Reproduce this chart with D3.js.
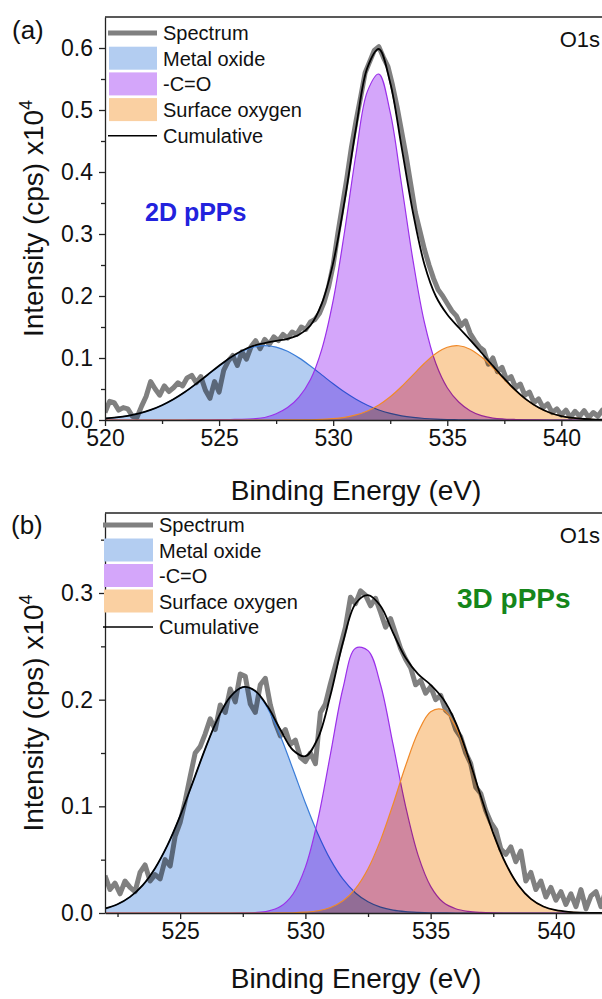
<!DOCTYPE html>
<html>
<head>
<meta charset="utf-8">
<script src="https://cdn.jsdelivr.net/npm/d3@7"></script>
<style>
body { margin: 0; background: #fff; }
svg { display: block; font-family: Arial, "Liberation Sans", sans-serif; }
</style>
</head>
<body>
<div id="chart"></div>
<script>
// ---- data ----
var legendLabels = ["Spectrum", "Metal oxide", "-C=O", "Surface oxygen", "Cumulative"];

// panel (a), fitted components every 0.5 eV from 520 eV
var fitStartA = 520;
var metalA = [0.0024, 0.0041, 0.0067, 0.0107, 0.0162, 0.0238, 0.0334, 0.0450, 0.0584, 0.0728,
              0.0871, 0.1002, 0.1108, 0.1176, 0.1200, 0.1176, 0.1108, 0.1002, 0.0871, 0.0728,
              0.0584, 0.0450, 0.0334, 0.0238, 0.0162, 0.0107, 0.0067, 0.0041, 0.0024, 0.0013,
              0.0007, 0.0004, 0.0002, 0, 0, 0, 0, 0, 0, 0, 0, 0, 0, 0, 0];
var carbonylA = [0, 0, 0, 0, 0, 0, 0, 0, 0.0002, 0.0003,
                 0.0005, 0.0008, 0.001, 0.002, 0.004, 0.010, 0.020, 0.037, 0.065, 0.114,
                 0.193, 0.304, 0.429, 0.530, 0.558, 0.496, 0.379, 0.257, 0.157, 0.091,
                 0.052, 0.029, 0.015, 0.007, 0.003, 0.0015, 0.0008, 0.0004, 0.0002, 0,
                 0, 0, 0, 0, 0];
var surfaceA = [0, 0, 0, 0, 0, 0, 0, 0, 0, 0,
                0, 0, 0, 0, 0, 0, 0.0001, 0.0002, 0.0004, 0.001,
                0.0021, 0.0043, 0.0082, 0.0146, 0.0242, 0.0374, 0.054, 0.0728, 0.0915, 0.1073,
                0.1174, 0.1198, 0.1142, 0.1015, 0.0842, 0.0651, 0.0471, 0.0317, 0.0199, 0.0117,
                0.0064, 0.0033, 0.0016, 0.0007, 0.0003];
// panel (a), measured spectrum every 0.2 eV from 520 eV
var specStartA = 520;
var spectrumA = [0.012, 0.030, 0.028, 0.016, 0.020, 0.018, 0.006, 0.004, 0.022, 0.038,
                 0.062, 0.050, 0.040, 0.055, 0.046, 0.052, 0.060, 0.055, 0.068, 0.072,
                 0.060, 0.070, 0.048, 0.035, 0.062, 0.045, 0.080, 0.095, 0.104, 0.088,
                 0.110, 0.098, 0.118, 0.128, 0.115, 0.130, 0.122, 0.134, 0.128, 0.138,
                 0.132, 0.142, 0.138, 0.150, 0.146, 0.158, 0.162, 0.172, 0.190, 0.215,
                 0.250, 0.300, 0.345, 0.390, 0.440, 0.482, 0.520, 0.560, 0.578, 0.596,
                 0.602, 0.585, 0.570, 0.540, 0.505, 0.465, 0.425, 0.380, 0.335, 0.305,
                 0.275, 0.250, 0.228, 0.210, 0.200, 0.188, 0.176, 0.168, 0.152, 0.160,
                 0.140, 0.128, 0.118, 0.112, 0.090, 0.100, 0.078, 0.085, 0.065, 0.070,
                 0.052, 0.058, 0.040, 0.045, 0.028, 0.034, 0.020, 0.026, 0.012, 0.018,
                 0.008, 0.016, 0.004, 0.014, 0.006, 0.015, 0.004, 0.012, 0.006, 0.016,
                 0.008];

// panel (b), fitted components every 0.5 eV from 522 eV
var fitStartB = 522;
var metalB = [0.0042, 0.0082, 0.0151, 0.0259, 0.0420, 0.0638, 0.0911, 0.1222, 0.1539, 0.1823,
              0.2027, 0.2117, 0.2078, 0.1916, 0.1659, 0.1350, 0.1032, 0.0741, 0.0500, 0.0317,
              0.0188, 0.0105, 0.0055, 0.0027, 0.0013, 0.0006, 0.0002, 0.0001, 0, 0,
              0, 0, 0, 0, 0, 0, 0, 0, 0, 0, 0];
var carbonylB = [0, 0, 0, 0, 0, 0, 0, 0, 0, 0,
                 0, 0.0001, 0.0004, 0.0017, 0.0060, 0.0176, 0.0430, 0.0877, 0.1489, 0.2107,
                 0.2483, 0.2460, 0.2140, 0.1580, 0.1000, 0.0540, 0.0250, 0.0100, 0.0040, 0.0015,
                 0.0005, 0.0001, 0, 0, 0, 0, 0, 0, 0, 0, 0];
var surfaceB = [0, 0, 0, 0, 0, 0, 0, 0, 0, 0,
                0, 0, 0, 0, 0.0001, 0.0002, 0.0008, 0.0021, 0.0052, 0.0114,
                0.0229, 0.0415, 0.0683, 0.1020, 0.1380, 0.1694, 0.1887, 0.1905, 0.1745, 0.1449,
                0.1092, 0.0746, 0.0462, 0.0260, 0.0132, 0.0061, 0.0026, 0.0010, 0.0003, 0.0001,
                0];
// panel (b), measured spectrum every 0.2 eV from 522 eV
var specStartB = 522;
var spectrumB = [0.035, 0.022, 0.028, 0.018, 0.030, 0.024, 0.020, 0.038, 0.045, 0.030,
                 0.036, 0.032, 0.050, 0.044, 0.072, 0.085, 0.105, 0.128, 0.150, 0.156,
                 0.168, 0.182, 0.172, 0.195, 0.188, 0.210, 0.198, 0.224, 0.222, 0.196,
                 0.188, 0.214, 0.220, 0.195, 0.178, 0.166, 0.172, 0.158, 0.162, 0.146,
                 0.142, 0.150, 0.140, 0.188, 0.196, 0.215, 0.232, 0.250, 0.268, 0.296,
                 0.290, 0.302, 0.298, 0.288, 0.295, 0.282, 0.268, 0.276, 0.262, 0.248,
                 0.238, 0.230, 0.214, 0.218, 0.206, 0.212, 0.200, 0.204, 0.190, 0.186,
                 0.172, 0.165, 0.150, 0.140, 0.118, 0.112, 0.096, 0.085, 0.078, 0.060,
                 0.055, 0.062, 0.048, 0.058, 0.030, 0.038, 0.022, 0.030, 0.015, 0.024,
                 0.012, 0.020, 0.008, 0.018, 0.006, 0.022, 0.004, 0.016, 0.020, 0.006,
                 0.022];

var xTicksA = [520, 525, 530, 535, 540];
var xMinorA = [522.5, 527.5, 532.5, 537.5];
var yTicksA = [0, 0.1, 0.2, 0.3, 0.4, 0.5, 0.6];
var yMinorA = [0.05, 0.15, 0.25, 0.35, 0.45, 0.55];
var xTicksB = [525, 530, 535, 540];
var xMinorB = [522.5, 527.5, 532.5, 537.5];
var yTicksB = [0, 0.1, 0.2, 0.3];
var yMinorB = [0.05, 0.15, 0.25, 0.35];

// ---- drawing ----
var width = 602;
var height = 999;
var compFill = ["#b3cdf1", "#d4a6fa", "#fad0a2"];
var compLine = ["#3b7dd8", "#9b30ea", "#f08a2a"];

var svg = d3.select("#chart")
            .append("svg")
            .attr("width", width)
            .attr("height", height);

svg.append("rect")
    .attr("width", width)
    .attr("height", height)
    .attr("fill", "white");

function toPoints(values, start, step) {
    return values.map((v, i) => ({x : start + i * step, y : v}));
}

function drawPanel(p) {
    var g = svg.append("g");
    var x = p.x, y = p.y;
    var left = x.range()[0], right = x.range()[1];
    var bottom = y.range()[0], top = y.range()[1];

    var clipId = "clip" + p.id;
    svg.append("clipPath").attr("id", clipId)
        .append("rect")
        .attr("x", left).attr("y", top)
        .attr("width", right - left).attr("height", bottom - top);

    var plot = g.append("g").attr("clip-path", "url(#" + clipId + ")");

    var curve = d3.curveCatmullRom.alpha(0.5);
    var line = d3.line().x(d => x(d.x)).y(d => y(d.y)).curve(curve);
    var area = d3.area().x(d => x(d.x)).y0(y(0)).y1(d => y(d.y)).curve(curve);

    // measured spectrum first, so the fits tint it
    plot.append("path")
        .attr("d", d3.line().x(d => x(d.x)).y(d => y(d.y))(toPoints(p.spectrum, p.specStart, 0.2)))
        .attr("fill", "none")
        .attr("stroke", "#808080")
        .attr("stroke-width", 5)
        .attr("stroke-linejoin", "round");

    var comps = [p.metal, p.carbonyl, p.surface];
    comps.forEach((c, i) => {
        var pts = toPoints(c, p.fitStart, 0.5);
        plot.append("path")
            .attr("d", area(pts))
            .attr("fill", compFill[i])
            .style("mix-blend-mode", "multiply");
        plot.append("path")
            .attr("d", line(pts))
            .attr("fill", "none")
            .attr("stroke", compLine[i])
            .attr("stroke-width", 1.2);
    });

    var cumulative = p.metal.map((v, i) => v + p.carbonyl[i] + p.surface[i]);
    plot.append("path")
        .attr("d", line(toPoints(cumulative, p.fitStart, 0.5)))
        .attr("fill", "none")
        .attr("stroke", "black")
        .attr("stroke-width", 1.8);

    // axes
    var fmt = d3.format(".1f");
    g.append("g").attr("transform", "translate(0," + bottom + ")")
        .call(d3.axisBottom(x).tickValues(p.xTicks).tickFormat(d3.format("d"))
              .tickSize(6).tickSizeOuter(0).tickPadding(4));
    g.append("g").attr("transform", "translate(0," + bottom + ")")
        .call(d3.axisBottom(x).tickValues(p.xMinor).tickFormat("").tickSize(4).tickSizeOuter(0))
        .select(".domain").remove();
    g.append("g").attr("transform", "translate(" + left + ",0)")
        .call(d3.axisLeft(y).tickValues(p.yTicks).tickFormat(fmt)
              .tickSize(6).tickSizeOuter(0).tickPadding(6));
    g.append("g").attr("transform", "translate(" + left + ",0)")
        .call(d3.axisLeft(y).tickValues(p.yMinor).tickFormat("").tickSize(4).tickSizeOuter(0))
        .select(".domain").remove();

    g.selectAll(".domain, .tick line").attr("stroke", "#222").attr("stroke-width", 1.3);
    g.selectAll(".tick text").attr("font-size", 23).attr("fill", "#111")
        .attr("font-family", "Arial, 'Liberation Sans', sans-serif");

    g.append("line")
        .attr("x1", left).attr("x2", right)
        .attr("y1", top).attr("y2", top)
        .attr("stroke", "#222").attr("stroke-width", 1.3);

    // titles
    g.append("text")
        .attr("x", 356).attr("y", p.xTitleY)
        .attr("text-anchor", "middle")
        .attr("font-size", 28)
        .attr("fill", "#111")
        .text("Binding Energy (eV)");

    var yt = g.append("text")
        .attr("transform", "translate(43," + (bottom + top) / 2 + ") rotate(-90)")
        .attr("text-anchor", "middle")
        .attr("font-size", 28)
        .attr("fill", "#111");
    yt.append("tspan").text("Intensity (cps) x10");
    yt.append("tspan").attr("dy", -11).attr("font-size", 18).text("4");

    g.append("text")
        .attr("x", p.tag[0]).attr("y", p.tag[1])
        .attr("font-size", 26).attr("fill", "#111")
        .text(p.tagText);

    g.append("text")
        .attr("x", 600).attr("y", top + 30)
        .attr("text-anchor", "end")
        .attr("font-size", 22).attr("fill", "#111")
        .text("O1s");

    g.append("text")
        .attr("x", p.note[0]).attr("y", p.note[1])
        .attr("font-size", p.noteSize).attr("font-weight", "bold")
        .attr("fill", p.noteColor)
        .text(p.noteText);

    // legend
    var L = p.legend;
    legendLabels.forEach((name, i) => {
        var cy = L.y0 + i * L.dy;
        if (i === 0) {
            g.append("line").attr("x1", L.x0).attr("x2", L.x1).attr("y1", cy).attr("y2", cy)
                .attr("stroke", "#808080").attr("stroke-width", 5);
        } else if (i === 4) {
            g.append("line").attr("x1", L.x0).attr("x2", L.x1).attr("y1", cy).attr("y2", cy)
                .attr("stroke", "black").attr("stroke-width", 1.6);
        } else {
            g.append("rect").attr("x", L.x0 + 1).attr("y", cy - 12)
                .attr("width", L.x1 - L.x0 - 1).attr("height", 23)
                .attr("fill", compFill[i - 1]);
        }
        g.append("text")
            .attr("x", L.x1 + 6).attr("y", cy + 7)
            .attr("font-size", 20).attr("fill", "#111")
            .text(name);
    });
}

drawPanel({
    id : "a",
    x : d3.scaleLinear().domain([520, 542]).range([105, 607]),
    y : d3.scaleLinear().domain([0, 0.65]).range([420, 17]),
    metal : metalA, carbonyl : carbonylA, surface : surfaceA, fitStart : fitStartA,
    spectrum : spectrumA, specStart : specStartA,
    xTicks : xTicksA, xMinor : xMinorA, yTicks : yTicksA, yMinor : yMinorA,
    xTitleY : 500,
    tag : [12, 39], tagText : "(a)",
    note : [145, 221], noteText : "2D pPPs", noteColor : "#2222dd", noteSize : 25,
    legend : {x0 : 108, x1 : 157, y0 : 33, dy : 25.7}
});

drawPanel({
    id : "b",
    x : d3.scaleLinear().domain([522, 542]).range([105, 606]),
    y : d3.scaleLinear().domain([0, 0.375]).range([913, 513]),
    metal : metalB, carbonyl : carbonylB, surface : surfaceB, fitStart : fitStartB,
    spectrum : spectrumB, specStart : specStartB,
    xTicks : xTicksB, xMinor : xMinorB, yTicks : yTicksB, yMinor : yMinorB,
    xTitleY : 988,
    tag : [11, 534], tagText : "(b)",
    note : [457, 608], noteText : "3D pPPs", noteColor : "#15861a", noteSize : 28,
    legend : {x0 : 103, x1 : 153, y0 : 525, dy : 25.5}
});
</script>
</body>
</html>
